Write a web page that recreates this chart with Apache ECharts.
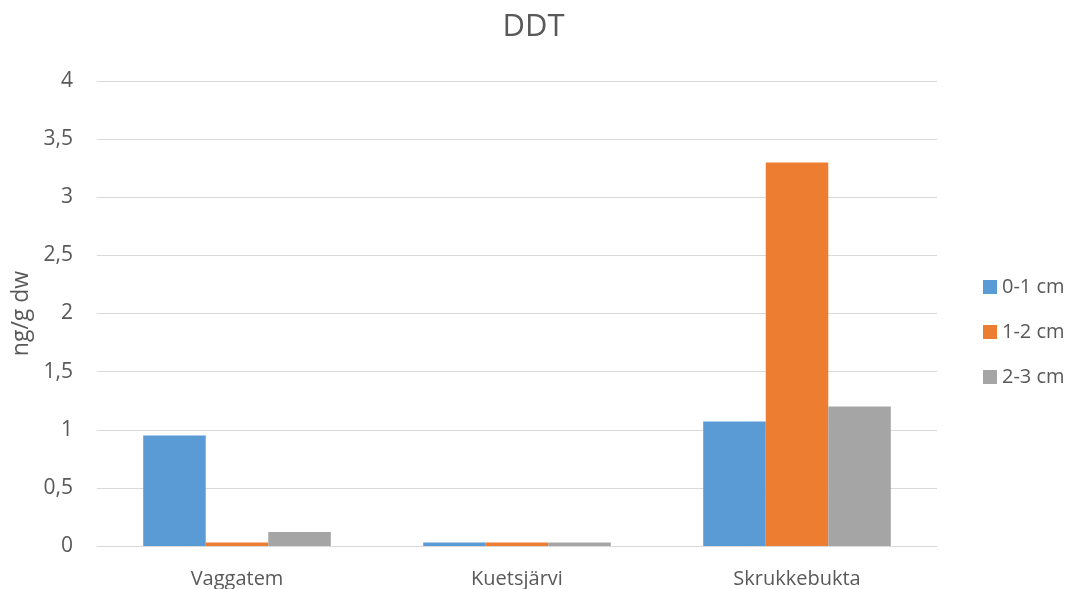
<!DOCTYPE html>
<html>
<head>
<meta charset="utf-8">
<script src="https://cdn.jsdelivr.net/npm/echarts@6/dist/echarts.min.js"></script>
<style>
html, body { margin: 0; padding: 0; background: #fff; }
#chart { width: 1067px; height: 589px; }
</style>
</head>
<body>
<div id="chart"></div>
<script>
var categories = ['Vaggatem', 'Kuetsjärvi', 'Skrukkebukta'];
var seriesNames = ['0-1 cm', '1-2 cm', '2-3 cm'];
var s01 = [0.95, 0.03, 1.07];
var s12 = [0.03, 0.03, 3.3];
var s23 = [0.12, 0.03, 1.2];
var colors = ['#5B9BD5', '#ED7D31', '#A5A5A5'];

var chart = echarts.init(document.getElementById('chart'));
var textColor = '#595959';
var font = 'Open Sans';

var option = {
	color : colors,
	textStyle : { fontFamily : font },
	title : {
		text : 'DDT',
		left : 'center',
		top : 7,
		textStyle : { fontSize : 31, fontWeight : 'normal', color : textColor, fontFamily : font }
	},
	legend : {
		orient : 'vertical',
		left : 978,
		top : 272,
		itemWidth : 14,
		itemHeight : 14,
		itemGap : 25,
		icon : 'rect',
		textStyle : { fontSize : 20, lineHeight : 20, color : textColor, fontFamily : font },
		data : seriesNames
	},
	grid : {
		left : 97,
		right : 130,
		top : 81,
		bottom : 42,
		containLabel : false
	},
	xAxis : {
		type : 'category',
		data : categories,
		axisTick : { show : false },
		axisLine : { lineStyle : { color : '#D9D9D9' } },
		axisLabel : { fontSize : 20, color : textColor, margin : 23 }
	},
	yAxis : {
		type : 'value',
		min : 0,
		max : 4,
		interval : 0.5,
		name : 'ng/g dw',
		nameLocation : 'middle',
		nameGap : 62,
		nameTextStyle : { fontSize : 23, color : textColor },
		axisLine : { show : false },
		axisTick : { show : false },
		axisLabel : {
			fontSize : 21,
			color : textColor,
			margin : 24,
			formatter : function (v) { return String(v).replace('.', ','); }
		},
		splitLine : { lineStyle : { color : '#D9D9D9' } }
	},
	series : [
		{ name : seriesNames[0], type : 'bar', data : s01, barGap : '0%', barCategoryGap : '33%' },
		{ name : seriesNames[1], type : 'bar', data : s12, barGap : '0%', barCategoryGap : '33%' },
		{ name : seriesNames[2], type : 'bar', data : s23, barGap : '0%', barCategoryGap : '33%' }
	]
};
chart.setOption(option);
window.onresize = chart.resize;
</script>
</body>
</html>
